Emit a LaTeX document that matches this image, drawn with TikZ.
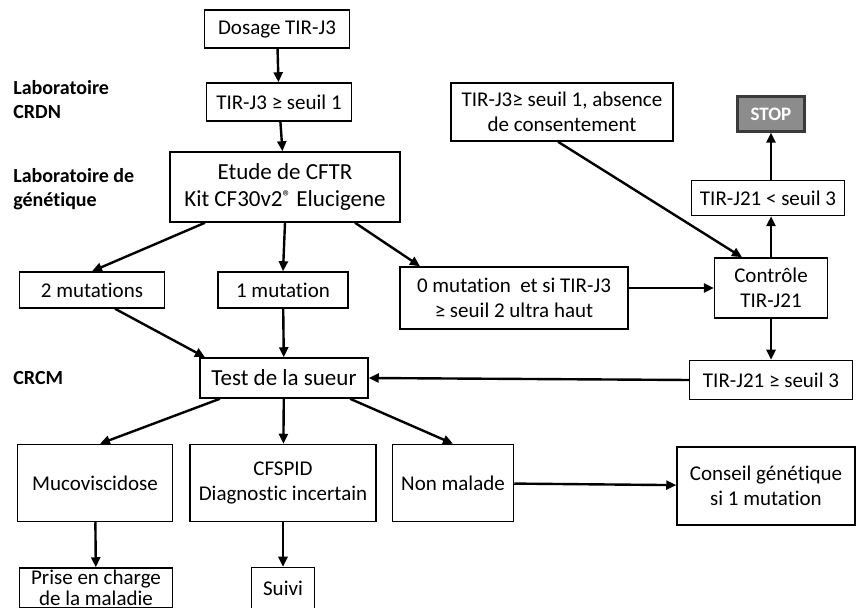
\documentclass[tikz,border=0pt]{standalone}
\usepackage{fontspec}
\setmainfont{Carlito}[Ligatures=NoCommon]
\usetikzlibrary{arrows.meta}
\tikzset {>={Triangle[length=5pt,width=4.5pt]}}
\definecolor{stopgray}{HTML}{8C8C8C}
\definecolor{stopline}{HTML}{3A3A3A}

\begin{document}
\begin{tikzpicture}[x=0.5pt,y=-0.5pt,
  box/.style={draw,line width=.75pt,align=center,inner sep=1pt,font=\fontsize{10.5}{12.5}\selectfont},
  big/.style={font=\fontsize{11.5}{13.5}\selectfont},
  flow/.style={->,line width=1.2pt},
  side/.style={anchor=west,align=left,inner sep=0pt,font=\bfseries\fontsize{10}{12}\selectfont}]
\useasboundingbox (0,0) rectangle (857,608);

% side labels
\node[side] (crdn) at (13,100) {Laboratoire\\CRDN};
\node[side] (gen) at (13,189) {Laboratoire de\\génétique};
\node[side] (crcm) at (13,378) {CRCM};

% screening
\node[box,minimum width=72.5pt,minimum height=19pt] (dosage) at (277,29) {Dosage TIR-J3};
\node[box,minimum width=72.5pt,minimum height=19pt] (seuil1) at (279,102) {TIR-J3 ≥ seuil 1};
\node[box,big,minimum width=115pt,minimum height=35pt]
  (cftr) at (285,187) {Etude de CFTR\\Kit CF30v2{\fontsize{8.5}{8}\selectfont\raisebox{.5ex}{®}} Elucigene};
\node[box,minimum width=72.5pt,minimum height=18pt] (mut2) at (92,290) {2 mutations};
\node[box,minimum width=65pt,minimum height=18pt] (mut1) at (283,290) {1 mutation};
\node[box,minimum width=114pt,minimum height=31pt] (mut0) at (514,298) {0 mutation\ \ et si TIR-J3\\≥ seuil 2 ultra haut};

% controle
\node[box,minimum width=111pt,minimum height=29pt] (consent) at (562,112) {TIR-J3≥ seuil 1, absence\\de consentement};
\node[box,minimum width=33.5pt,minimum height=17.5pt,fill=stopgray,draw=stopline,line width=1.2pt,
  text=white,font=\bfseries\fontsize{9.5}{11}\selectfont] (stop) at (771,114) {STOP};
\node[box,minimum width=76.5pt,minimum height=17.5pt] (inf3) at (768,198) {TIR-J21 < seuil 3};
\node[box,minimum width=56.5pt,minimum height=30pt] (controle) at (771,288) {Contrôle\\TIR-J21};
\node[box,minimum width=81.5pt,minimum height=19.5pt] (sup3) at (771,380) {TIR-J21 ≥ seuil 3};

% CRCM
\node[box,big,minimum width=84pt,minimum height=20pt] (sueur) at (284,378) {Test de la sueur};
\node[box,minimum width=77.5pt,minimum height=38.5pt] (muco) at (95,483) {Mucoviscidose};
\node[box,minimum width=93pt,minimum height=38.5pt] (cfspid) at (283,483) {CFSPID\\Diagnostic incertain};
\node[box,minimum width=60.5pt,minimum height=38.5pt] (nonmal) at (453,483) {Non malade};
\node[box,minimum width=89pt,minimum height=39pt] (conseil) at (766,486) {Conseil génétique\\si 1 mutation};
\node[box,minimum width=76.5pt,minimum height=20pt,font=\fontsize{10.5}{10.5}\selectfont] (prise) at (96,588) {Prise en charge\\de la maladie};
\node[box,minimum width=31.5pt,minimum height=20.5pt] (suivi) at (283,588) {Suivi};

\draw[flow] (dosage) -- (seuil1);
\draw[flow] (seuil1) -- (cftr);
\draw[flow] ([xshift=-40pt]cftr.south) -- (mut2.north);
\draw[flow] (cftr.south) -- (mut1.north);
\draw[flow] ([xshift=35pt]cftr.south) -- ([xshift=-47pt]mut0.north);
\draw[flow] ([xshift=11.5pt]mut2.south) -- ([xshift=-39.5pt]sueur.north);
\draw[flow] (mut1) -- (sueur);
\draw[flow] (controle.west -| mut0.east) -- (controle.west);
\draw[flow] ([xshift=-2pt]consent.south) -- ([xshift=-14.5pt]controle.north);
\draw[flow] (controle.north) -- (controle.north |- inf3.south);
\draw[flow] (stop.south |- inf3.north) -- (stop.south);
\draw[flow] (controle) -- (sup3);
\draw[flow] (sup3.west) -- (sueur.east);
\draw[flow] ([xshift=-32pt]sueur.south) -- ([xshift=2.5pt]muco.north);
\draw[flow] (sueur) -- (cfspid);
\draw[flow] ([xshift=33pt]sueur.south) -- (nonmal.north);
\draw[flow] (nonmal) -- (conseil);
\draw[flow] (muco) -- (prise);
\draw[flow] (cfspid) -- (suivi);
\end{tikzpicture}
\end{document}
